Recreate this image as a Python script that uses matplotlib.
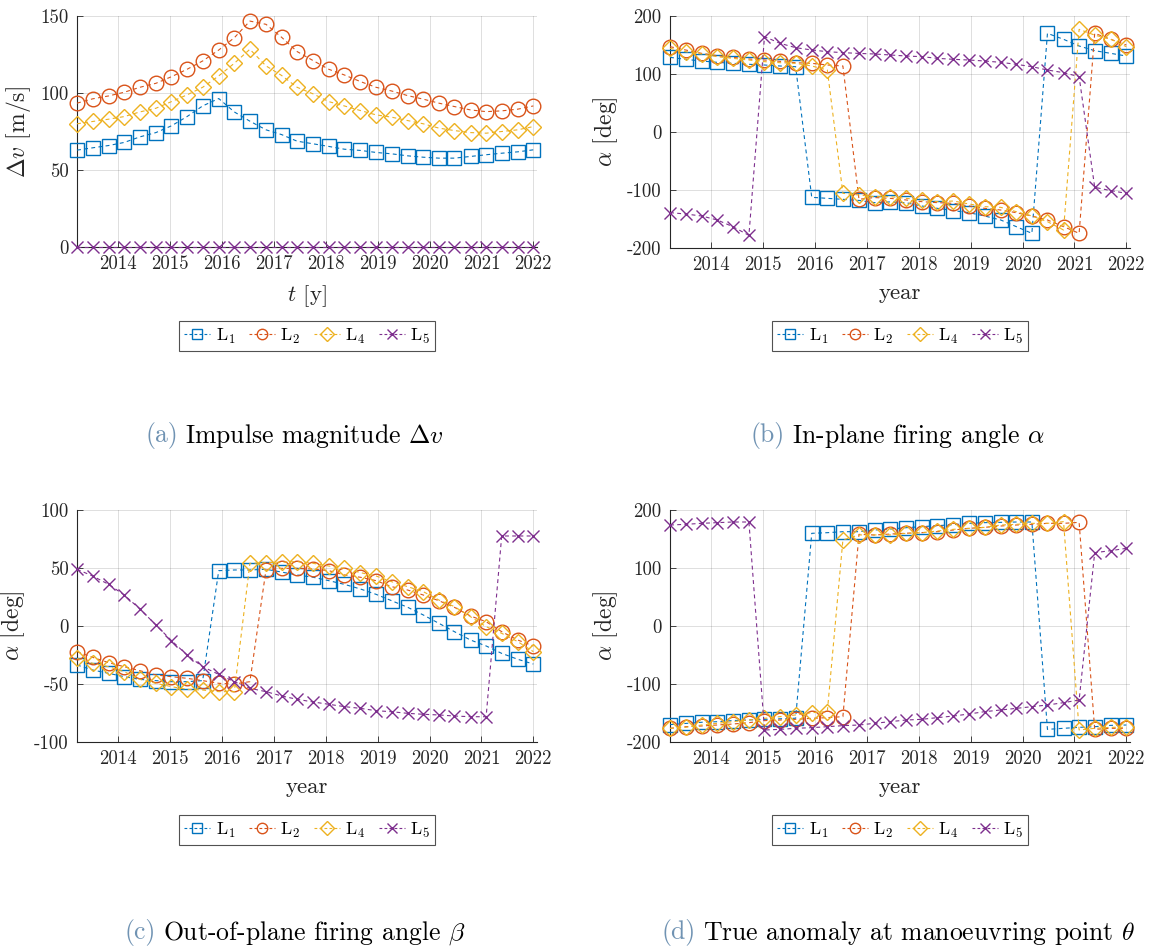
import matplotlib
matplotlib.use('Agg')
import matplotlib.pyplot as plt
from matplotlib.lines import Line2D

# ---------------- data ----------------
t_years = [2013.21, 2013.51, 2013.82, 2014.12, 2014.42, 2014.73, 2015.03, 2015.33,
           2015.63, 2015.94, 2016.24, 2016.54, 2016.85, 2017.15, 2017.45, 2017.76,
           2018.06, 2018.36, 2018.67, 2018.97, 2019.27, 2019.58, 2019.88, 2020.18,
           2020.48, 2020.79, 2021.09, 2021.39, 2021.70, 2022.00]
year_ticks = [2014, 2015, 2016, 2017, 2018, 2019, 2020, 2021, 2022]
series_labels = [r'L$_1$', r'L$_2$', r'L$_4$', r'L$_5$']

# (a) impulse magnitude dv [m/s]
dv_L1 = [62.9, 64.4, 65.9, 67.9, 71.5, 74.3, 78.7, 84.7, 91.6, 96.4, 87.7, 81.7, 76.1, 73.0, 68.7,
         67.0, 65.3, 63.5, 62.7, 61.4, 60.5, 59.2, 58.3, 57.7, 57.7, 58.8, 59.9, 60.9, 61.8, 63.1]
dv_L2 = [93.4, 96.2, 98.1, 100.5, 103.7, 106.3, 110.6, 115.4, 120.8, 127.9, 135.9, 146.7, 144.6, 136.2, 126.9,
         121.0, 115.4, 111.7, 107.4, 103.7, 101.3, 98.3, 96.0, 93.4, 91.2, 89.0, 87.9, 88.4, 89.5, 91.6]
dv_L4 = [80.0, 81.5, 83.0, 84.7, 87.7, 90.1, 94.4, 98.8, 103.7, 111.1, 119.3, 128.4, 117.6, 111.4, 103.7,
         99.4, 94.4, 91.6, 88.6, 85.8, 84.3, 82.1, 80.0, 77.2, 75.6, 74.3, 73.9, 75.0, 76.1, 78.2]
dv_L5 = [0.0] * 30

# (b) in-plane firing angle alpha [deg]
alpha_L1 = [128.7, 125.3, 122.4, 120.1, 118.4, 116.7, 115.5, 113.8, 112.6, -112.6, -114.4, -116.1, -118.0,
            -121.8, -120.5, -122.0, -127.6, -131.6, -135.6, -139.1, -144.8, -151.7, -163.2, -174.7,
            170.1, 159.8, 148.3, 140.2, 135.6, 131.0]
alpha_L2 = [147.1, 141.4, 135.6, 131.6, 128.7, 125.9, 124.1, 121.8, 119.5, 118.4, 115.5, 113.8, -116.0,
            -113.0, -114.4, -117.2, -120.1, -121.8, -123.0, -127.6, -131.6, -134.5, -139.1, -144.8,
            -151.7, -163.2, -174.7, 170.1, 159.8, 150.0]
alpha_L4 = [144.3, 138.5, 134.5, 129.9, 127.0, 124.1, 121.3, 119.5, 118.4, 113.8, 107.0, -105.7, -108.6,
            -111.5, -111.5, -114.4, -117.2, -120.1, -119.0, -124.1, -128.7, -129.9, -137.4, -144.8,
            -154.6, -169.0, 177.0, 167.0, 160.0, 147.0]
alpha_L5 = [-139.0, -141.4, -144.8, -151.7, -163.2, -178.2, 164.4, 152.9, 145.4, 141.4, 138.5, 136.8,
            135.5, 134.5, 132.8, 131.0, 129.9, 127.0, 125.3, 124.1, 122.4, 120.1, 116.7, 112.6, 106.9,
            102.3, 95.4, -95.4, -101.1, -105.7]

# (c) out-of-plane firing angle beta [deg]
beta_L1 = [-33.6, -37.9, -40.8, -43.7, -46.0, -47.1, -48.0, -48.0, -47.1, 47.7, 48.3, 48.3, 48.9, 46.5,
           44.0, 42.0, 39.1, 35.9, 31.9, 27.3, 21.8, 16.1, 9.5, 2.3, -4.9, -12.1, -17.2, -23.6, -28.7, -32.8]
beta_L2 = [-22.1, -27.0, -31.6, -35.1, -38.5, -42.2, -43.7, -45.1, -47.1, -49.4, -50.0, -48.0, 48.3, 49.7,
           49.7, 49.1, 47.7, 44.0, 42.0, 39.1, 33.9, 31.0, 26.7, 21.8, 16.1, 8.6, 3.7, -4.9, -12.1, -17.2]
beta_L4 = [-27.9, -32.2, -35.1, -39.4, -46.0, -49.4, -52.3, -54.6, -55.2, -56.6, -56.6, 54.0, 54.6, 55.0,
           55.5, 54.0, 51.7, 49.7, 46.0, 43.1, 38.2, 33.9, 29.6, 22.4, 16.7, 8.0, -0.6, -6.3, -13.5, -22.1]
beta_L5 = [48.9, 43.1, 35.9, 26.7, 14.7, 0.9, -12.6, -25.0, -35.1, -41.7, -48.0, -53.7, -56.6, -60.3,
           -63.2, -65.5, -67.5, -69.5, -71.0, -73.0, -73.9, -75.3, -76.1, -76.7, -77.6, -78.2, -78.2,
           77.6, 77.6, 77.6]

# (d) true anomaly at manoeuvring point theta [deg]
theta_L1 = [-170.0, -168.0, -166.0, -165.0, -163.0, -162.0, -161.0, -160.0, -159.0, 159.8, 160.9, 162.6,
            162.6, 165.5, 167.2, 169.5, 171.3, 173.0, 174.7, 177.0, 178.2, 178.7, 179.3, 179.3,
            -178.2, -176.4, -174.7, -173.6, -171.3, -170.7]
theta_L2 = [-176.4, -173.6, -172.4, -170.7, -169.0, -166.7, -163.2, -162.1, -160.9, -159.2, -158.0, -156.3,
            158.0, 156.9, 158.5, 160.0, 160.9, 162.6, 165.5, 168.4, 170.1, 172.4, 174.1, 175.3, 177.0,
            177.0, 178.7, -178.2, -176.4, -176.4]
theta_L4 = [-176.4, -174.7, -170.7, -167.8, -164.9, -162.1, -159.2, -156.3, -153.4, -149.4, -147.7, 148.3,
            157.0, 157.0, 157.0, 159.8, 160.9, 163.8, 166.7, 168.4, 170.1, 174.1, 175.3, 177.0, 177.0,
            179.9, -179.3, -176.4, -174.7, -174.7]
theta_L5 = [174.1, 175.3, 177.0, 178.2, 179.3, 179.3, -179.3, -178.2, -176.4, -175.3, -173.6, -171.8,
            -170.7, -167.8, -164.9, -162.1, -160.9, -158.0, -155.2, -151.7, -147.7, -144.8, -142.0,
            -139.1, -136.2, -132.2, -127.6, 126.4, 129.9, 133.9]

# ---------------- style ----------------
plt.rcParams['font.family'] = ['cmr10', 'DejaVu Serif']
plt.rcParams['mathtext.fontset'] = 'cm'
plt.rcParams['axes.unicode_minus'] = False
plt.rcParams['axes.formatter.use_mathtext'] = False

W, H = 1150, 948
fig = plt.figure(figsize=(W / 100, H / 100), dpi=100)

colors = ['#0072BD', '#D95319', '#EDB120', '#7E2F8E']
markers = ['s', 'o', 'D', 'x']
msizes = [9.5, 10.5, 8.5, 9]
TXT = '#262626'


def ax_at(left, top, right, bottom):
    return fig.add_axes([left / W, 1 - bottom / H, (right - left) / W, (bottom - top) / H])


def draw(ax, data, ylim, yticks, xlabel, ylabel):
    for y, c, m, s in zip(data, colors, markers, msizes):
        ax.plot(t_years, y, linestyle=(0, (3.5, 3)), lw=0.8, color=c, marker=m, ms=s,
                mfc='none', mec=c, mew=1.0, clip_on=False, zorder=3)
    ax.set_xlim(2013.21, 2022.07)
    ax.set_ylim(*ylim)
    ax.set_xticks(year_ticks)
    ax.set_yticks(yticks)
    ax.grid(True, color=TXT, alpha=0.15, lw=0.7)
    ax.set_axisbelow(True)
    for s in ['top', 'right']:
        ax.spines[s].set_visible(False)
    for s in ['left', 'bottom']:
        ax.spines[s].set_color(TXT)
        ax.spines[s].set_linewidth(0.8)
    ax.tick_params(direction='in', length=4, width=0.6, labelsize=13.5, colors=TXT, pad=6)
    ax.set_xlabel(xlabel, fontsize=16.5, color=TXT, labelpad=7)
    ax.set_ylabel(ylabel, fontsize=17, color=TXT, labelpad=5)


axa = ax_at(77, 16, 537, 247)
draw(axa, [dv_L1, dv_L2, dv_L4, dv_L5], (0, 150), [0, 50, 100, 150], r'$t$ [y]', r'$\Delta v$ [m/s]')
axb = ax_at(670, 16, 1130, 248)
draw(axb, [alpha_L1, alpha_L2, alpha_L4, alpha_L5], (-200, 200), [-200, -100, 0, 100, 200], 'year',
     r'$\alpha$ [deg]')
axc = ax_at(77, 510, 537, 742)
draw(axc, [beta_L1, beta_L2, beta_L4, beta_L5], (-100, 100), [-100, -50, 0, 50, 100], 'year',
     r'$\alpha$ [deg]')
axd = ax_at(670, 510, 1130, 742)
draw(axd, [theta_L1, theta_L2, theta_L4, theta_L5], (-200, 200), [-200, -100, 0, 100, 200], 'year',
     r'$\alpha$ [deg]')

# legends
handles = [Line2D([], [], linestyle=(0, (2.5, 2)), lw=0.8, color=c, marker=m, ms=7.5 if m != 'D' else 7,
                  mfc='none', mec=c, mew=1.0) for c, m in zip(colors, markers)]
for cx, cy in [(307, 336), (900, 336), (307, 830), (900, 830)]:
    leg = fig.legend(handles, series_labels, loc='center', bbox_to_anchor=(cx / W, 1 - cy / H), ncol=4,
                     frameon=True, fancybox=False, edgecolor=TXT, fontsize=13, handlelength=1.45,
                     columnspacing=0.75, handletextpad=0.3, borderpad=0.3, borderaxespad=0)
    leg.get_frame().set_linewidth(0.8)

# captions
renderer = fig.canvas.get_renderer()
captions = [(295, 436, '(a)', r'Impulse magnitude $\Delta v$'),
            (898, 436, '(b)', r'In-plane firing angle $\alpha$'),
            (295, 933, '(c)', r'Out-of-plane firing angle $\beta$'),
            (898, 933, '(d)', r'True anomaly at manoeuvring point $\theta$')]
for cx, cy, tag, txt in captions:
    t1 = fig.text(0, 1 - cy / H, tag, color='#7093b3', fontsize=18.5, va='center', ha='left')
    t2 = fig.text(0, 1 - cy / H, txt, color='black', fontsize=18.5, va='center', ha='left')
    w1 = t1.get_window_extent(renderer).width
    w2 = t2.get_window_extent(renderer).width
    gap = 7
    x0 = cx - (w1 + gap + w2) / 2
    t1.set_x(x0 / W)
    t2.set_x((x0 + w1 + gap) / W)

fig.savefig('out.png', dpi=100)
